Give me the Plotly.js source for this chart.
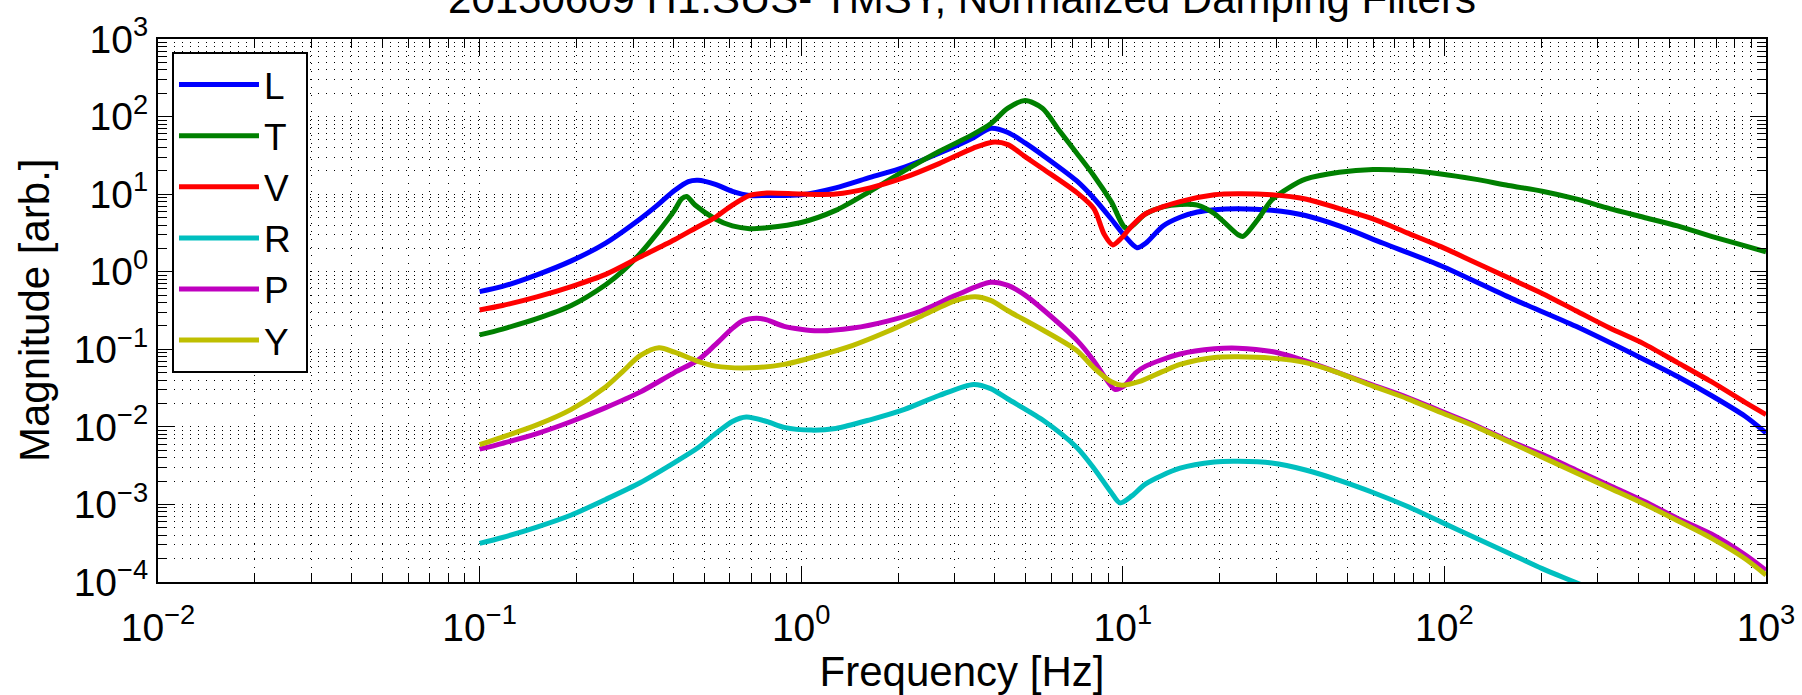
<!DOCTYPE html>
<html>
<head>
<meta charset="utf-8">
<script src="https://cdn.plot.ly/plotly-3.0.1.min.js"></script>
<style>
  html, body { margin: 0; padding: 0; background: #fff; }
  #chart { width: 1802px; height: 695px; }
</style>
</head>
<body>
<div id="chart"></div>
<script>
// ---- Data ----
const seriesNames = ['L', 'T', 'V', 'R', 'P', 'Y'];
const seriesColors = ['#0000FF', '#008000', '#FF0000', '#00BFBF', '#BF00BF', '#BFBF00'];

const freqL = [0.1, 0.1178, 0.1507, 0.1928, 0.2466, 0.3155, 0.3573, 0.4036, 0.4457, 0.4775, 0.541, 0.611, 0.692, 0.782, 1.0, 1.28, 1.637, 2.096, 2.683, 3.433, 3.882, 4.393, 4.966, 5.623, 7.194, 8.128, 9.204, 10.16, 11.07, 11.78, 13.34, 15.07, 17.06, 19.28, 22.8, 29.04, 36.98, 47.1, 64.57, 97.5, 162.2, 256.4, 415.9, 530.9, 676.1, 861, 1000];
const magL = [0.553, 0.646, 0.912, 1.38, 2.34, 4.79, 7.21, 11.12, 14.52, 15.1, 13.37, 10.89, 9.616, 9.616, 9.817, 12.05, 16.41, 22.34, 33.65, 53.46, 70.63, 62.37, 45.81, 31.99, 14.79, 8.851, 4.786, 2.858, 2.037, 2.328, 3.89, 5.035, 5.875, 6.31, 6.501, 6.18, 5.297, 3.89, 2.328, 1.194, 0.4498, 0.1977, 0.07447, 0.04457, 0.02535, 0.01368, 0.008356];

const freqT = [0.1, 0.1178, 0.1507, 0.1928, 0.2466, 0.279, 0.3155, 0.3573, 0.4036, 0.4246, 0.4406, 0.4677, 0.541, 0.611, 0.692, 0.782, 1.0, 1.28, 1.637, 2.096, 2.683, 3.433, 3.882, 4.393, 4.966, 5.623, 6.353, 7.194, 8.128, 9.204, 10.28, 11.78, 13.34, 15.07, 17.06, 19.28, 22.8, 23.66, 26.36, 29.04, 32.81, 36.98, 47.1, 59.98, 76.56, 97.5, 124.2, 158.1, 201.4, 256.4, 326.6, 415.9, 530.9, 676.1, 861, 1000];
const magT = [0.1531, 0.1824, 0.2477, 0.3664, 0.6792, 1.023, 1.71, 3.17, 6.18, 8.67, 9.333, 7.24, 4.786, 3.89, 3.589, 3.698, 4.315, 6.18, 10.89, 20.14, 35.48, 59.29, 80.72, 128.2, 160.7, 128.2, 65.61, 33.65, 17.26, 8.0, 3.589, 5.585, 6.855, 7.362, 7.211, 5.585, 3.013, 2.858, 4.786, 8.414, 12.05, 15.6, 19.14, 20.8, 20.14, 18.2, 15.6, 12.94, 10.89, 8.67, 6.501, 5.035, 3.89, 2.858, 2.148, 1.803];

const freqV = [0.1, 0.1178, 0.1507, 0.1928, 0.2466, 0.3155, 0.4036, 0.4775, 0.541, 0.611, 0.692, 0.782, 1.0, 1.28, 1.637, 2.096, 2.683, 3.433, 3.934, 4.393, 4.966, 5.623, 7.194, 8.128, 8.76, 9.311, 9.908, 10.67, 11.78, 15.07, 19.28, 22.8, 29.04, 36.98, 47.1, 59.98, 76.56, 97.5, 124.2, 158.1, 201.4, 256.4, 326.6, 415.9, 530.9, 676.1, 861, 1000];
const magV = [0.3206, 0.3664, 0.4742, 0.6442, 0.9247, 1.545, 2.582, 3.802, 5.035, 7.211, 9.616, 10.33, 10.02, 10.02, 12.05, 16.41, 24.77, 39.26, 46.77, 43.55, 30.41, 21.4, 10.47, 6.501, 3.013, 2.213, 2.716, 3.89, 5.585, 8.0, 9.817, 10.12, 9.817, 8.67, 6.501, 4.786, 3.17, 2.104, 1.324, 0.834, 0.5248, 0.3141, 0.1879, 0.1183, 0.0673, 0.0382, 0.02065, 0.01439];

const freqR = [0.1, 0.1178, 0.1507, 0.1928, 0.2466, 0.3155, 0.4036, 0.4775, 0.541, 0.611, 0.675, 0.782, 0.885, 1.077, 1.28, 1.637, 2.096, 2.683, 3.433, 3.882, 4.393, 5.623, 7.194, 8.128, 9.204, 9.795, 10.67, 11.78, 15.07, 19.28, 22.8, 29.04, 36.98, 47.1, 59.98, 76.56, 97.5, 124.2, 158.1, 201.4, 254, 326.6];
const magR = [0.0003148, 0.000375, 0.0005105, 0.0007311, 0.001161, 0.001905, 0.003467, 0.00537, 0.00813, 0.01175, 0.0134, 0.01172, 0.00984, 0.009078, 0.00955, 0.01233, 0.01679, 0.02535, 0.03524, 0.03112, 0.02286, 0.01233, 0.00542, 0.002931, 0.001426, 0.001047, 0.001288, 0.001845, 0.002931, 0.003524, 0.003597, 0.00342, 0.00278, 0.002046, 0.001426, 0.0009462, 0.0005957, 0.000375, 0.0002366, 0.0001489, 0.0001, 0.0000646];

const freqP = [0.1, 0.1178, 0.1507, 0.1928, 0.2466, 0.3155, 0.4036, 0.4775, 0.541, 0.611, 0.66, 0.726, 0.782, 0.885, 1.131, 1.448, 1.854, 2.371, 3.035, 3.882, 4.393, 4.966, 5.623, 7.194, 8.128, 8.76, 9.441, 10.16, 10.94, 11.78, 15.07, 19.28, 22.8, 29.04, 36.98, 47.1, 59.98, 76.56, 97.5, 124.2, 158.1, 201.4, 256.4, 326.6, 415.9, 530.9, 676.1, 861, 1000];
const magP = [0.005152, 0.006138, 0.008185, 0.01172, 0.0177, 0.02805, 0.0501, 0.0724, 0.1148, 0.1862, 0.2344, 0.2512, 0.2399, 0.1977, 0.173, 0.1879, 0.2307, 0.3141, 0.4989, 0.7295, 0.6653, 0.4989, 0.3304, 0.1312, 0.07079, 0.04457, 0.03048, 0.03451, 0.04943, 0.06067, 0.0869, 0.1014, 0.1035, 0.09354, 0.07079, 0.04943, 0.03451, 0.0241, 0.01596, 0.01059, 0.006668, 0.004416, 0.00278, 0.001754, 0.001104, 0.0006607, 0.0004159, 0.0002244, 0.0001413];

const freqY = [0.1, 0.1178, 0.1507, 0.1928, 0.2466, 0.279, 0.3155, 0.3614, 0.4036, 0.4775, 0.541, 0.692, 0.885, 1.131, 1.448, 1.854, 2.371, 3.035, 3.475, 3.882, 4.393, 5.623, 7.194, 8.128, 9.204, 9.908, 11.22, 13.34, 15.07, 19.28, 22.8, 29.04, 36.98, 47.1, 59.98, 76.56, 97.5, 124.2, 158.1, 201.4, 256.4, 326.6, 415.9, 530.9, 676.1, 861, 1000];
const magY = [0.005888, 0.007379, 0.01059, 0.01679, 0.03273, 0.052, 0.0826, 0.1047, 0.09162, 0.06998, 0.06067, 0.05768, 0.06383, 0.0826, 0.1125, 0.1694, 0.2692, 0.4276, 0.4742, 0.4276, 0.3141, 0.1786, 0.09638, 0.05768, 0.03819, 0.03451, 0.03819, 0.052, 0.06383, 0.07852, 0.08017, 0.07691, 0.0673, 0.04943, 0.0335, 0.02317, 0.01531, 0.01023, 0.006457, 0.004074, 0.00257, 0.001622, 0.001023, 0.0006166, 0.0003673, 0.0001995, 0.000123];

const xTickVals = [0.01, 0.1, 1, 10, 100, 1000];
const xTickText = ['10<sup>\u22122</sup>', '10<sup>\u22121</sup>', '10<sup>0</sup>', '10<sup>1</sup>', '10<sup>2</sup>', '10<sup>3</sup>'];
const yTickVals = [0.0001, 0.001, 0.01, 0.1, 1, 10, 100, 1000];
const yTickText = ['10<sup>\u22124</sup>', '10<sup>\u22123</sup>', '10<sup>\u22122</sup>', '10<sup>\u22121</sup>', '10<sup>0</sup>', '10<sup>1</sup>', '10<sup>2</sup>', '10<sup>3</sup>'];

const titleText = '20150609 H1:SUS- TMSY, Normalized Damping Filters';
const xTitle = 'Frequency [Hz]';
const yTitle = 'Magnitude [arb.]';

// ---- Build figure ----
const xs = [freqL, freqT, freqV, freqR, freqP, freqY];
const ys = [magL, magT, magV, magR, magP, magY];

const traces = seriesNames.map((name, i) => ({
  type: 'scatter',
  mode: 'lines',
  name: name + '\u00a0',
  x: xs[i],
  y: ys[i],
  line: { color: seriesColors[i], width: 5, shape: 'spline', smoothing: 0.8 },
  hoverinfo: 'x+y+name'
}));

function minorVals(d0, d1) {
  const v = [];
  for (let d = d0; d < d1; d++) {
    for (let k = 2; k <= 9; k++) v.push(k * Math.pow(10, d));
  }
  return v;
}

const FONT = 'Liberation Sans, Arial, Helvetica, sans-serif';
const gridDash = '1px,7px';
const gridColor = '#000';

const axisCommon = {
  type: 'log',
  tickmode: 'array',
  showline: true,
  linecolor: '#000',
  linewidth: 2,
  mirror: 'ticks',
  ticks: 'inside',
  ticklen: 16,
  tickwidth: 1,
  tickcolor: '#000',
  showgrid: true,
  gridcolor: gridColor,
  gridwidth: 1,
  griddash: gridDash,
  zeroline: false,
  tickfont: { family: FONT, size: 39, color: '#000' },
  automargin: false
};

const layout = {
  width: 1802,
  height: 695,
  paper_bgcolor: '#fff',
  plot_bgcolor: '#fff',
  margin: { l: 158, r: 36, t: 39, b: 113, pad: 0 },
  font: { family: FONT, color: '#000' },
  title: {
    text: titleText,
    font: { family: FONT, size: 42, color: '#000' },
    xref: 'paper', x: 0.5, xanchor: 'center',
    yref: 'container', y: 0.9813, yanchor: 'bottom'
  },
  xaxis: Object.assign({}, axisCommon, {
    range: [-2, 3],
    tickvals: xTickVals,
    ticktext: xTickText,
    ticklabelstandoff: 10,
    minor: { tickmode: 'array', tickvals: minorVals(-2, 3), ticks: 'inside', ticklen: 9, tickwidth: 1, tickcolor: '#000', showgrid: true, gridcolor: gridColor, gridwidth: 1, griddash: gridDash },
    title: { text: xTitle, font: { family: FONT, size: 42, color: '#000' }, standoff: 4 }
  }),
  yaxis: Object.assign({}, axisCommon, {
    range: [-4, 3],
    tickvals: yTickVals,
    ticktext: yTickText,
    minor: { tickmode: 'array', tickvals: minorVals(-4, 3), ticks: 'inside', ticklen: 9, tickwidth: 1, tickcolor: '#000', showgrid: true, gridcolor: gridColor, gridwidth: 1, griddash: gridDash }
  }),
  annotations: [{
    text: yTitle,
    xref: 'paper', x: -0.0768, xanchor: 'center',
    yref: 'paper', y: 0.5, yanchor: 'middle',
    textangle: -90,
    showarrow: false,
    font: { family: FONT, size: 42, color: '#000' }
  }],
  legend: {
    x: 0.0087, xanchor: 'left',
    y: 0.976, yanchor: 'top',
    bgcolor: '#fff',
    bordercolor: '#000',
    borderwidth: 2,
    font: { family: FONT, size: 37, color: '#000' },
    itemwidth: 80,
    tracegroupgap: 0
  },
  showlegend: true
};

Plotly.newPlot('chart', traces, layout, { displayModeBar: false, staticPlot: true });
</script>
</body>
</html>
